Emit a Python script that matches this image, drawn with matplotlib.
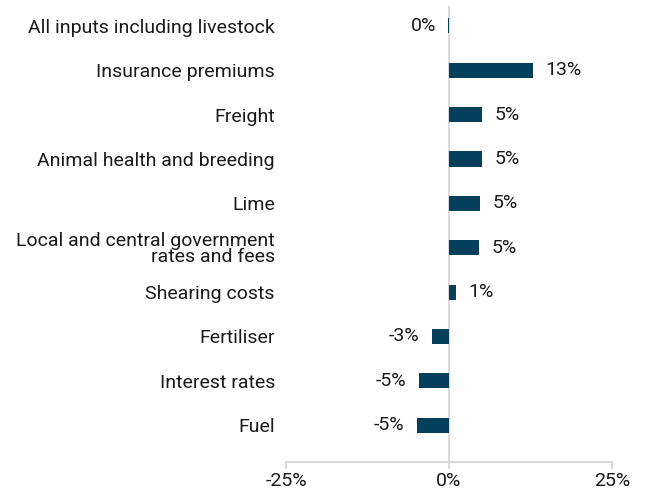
import matplotlib.pyplot as plt
from matplotlib.ticker import FuncFormatter

# input cost categories, top to bottom
categories = [
    "All inputs including livestock",
    "Insurance premiums",
    "Freight",
    "Animal health and breeding",
    "Lime",
    "Local and central government\nrates and fees",
    "Shearing costs",
    "Fertiliser",
    "Interest rates",
    "Fuel",
]
# annual change, %
changes = [-0.1, 12.9, 5.1, 5.0, 4.8, 4.6, 1.0, -2.6, -4.6, -4.9]
x_ticks = [-25, 0, 25]

bar_color = "#063f5c"
grid_grey = "#d9d9d9"
text_color = "#1a1a1a"

plt.rcParams["font.family"] = ["Roboto", "DejaVu Sans"]

fig = plt.figure(figsize=(6.46, 4.9), dpi=100)
ax = fig.add_axes([286 / 646, 0.057, 326 / 646, 0.931])

ypos = list(range(len(categories)))
ax.barh(ypos, changes, height=0.34, color=bar_color)

# value labels outside the bar ends
for y, v in zip(ypos, changes):
    txt = f"{round(v):d}%"
    if v >= 0:
        ax.annotate(txt, (v, y), xytext=(9, 0), textcoords="offset points",
                    ha="left", va="center", fontsize=14, color=text_color)
    else:
        ax.annotate(txt, (v, y), xytext=(-9, 0), textcoords="offset points",
                    ha="right", va="center", fontsize=14, color=text_color)

ax.axvline(0, color=grid_grey, lw=1.5, zorder=0)

ax.set_xlim(-25, 25)
ax.set_ylim(9.83, -0.45)
ax.set_yticks(ypos)
ax.set_yticklabels(categories, fontsize=14, color=text_color, linespacing=0.9)
ax.tick_params(axis="y", length=0, pad=8)

ax.set_xticks(x_ticks)
ax.xaxis.set_major_formatter(FuncFormatter(lambda x, p: f"{x:.0f}%"))
ax.tick_params(axis="x", length=5, width=1.5, color=grid_grey, labelsize=14,
               labelcolor=text_color, pad=2)

for side in ["top", "right", "left"]:
    ax.spines[side].set_visible(False)
ax.spines["bottom"].set_color(grid_grey)
ax.spines["bottom"].set_linewidth(1.5)

fig.savefig("out.png", dpi=100)
